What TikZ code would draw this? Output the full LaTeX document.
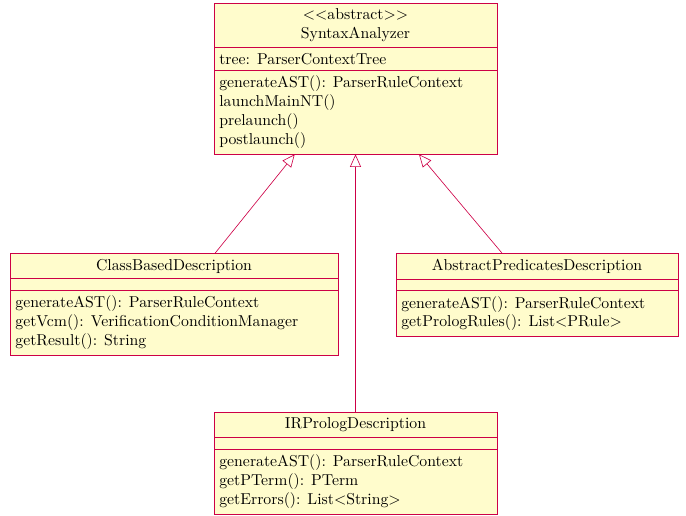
\documentclass[tikz,border=0pt]{standalone}
\usepackage{xcolor}
\usepackage{tikz}
\usetikzlibrary{arrows.meta, shapes.multipart}
\definecolor{umlred}{RGB}{205,0,70}
\tikzset{
    cls/.style={draw=umlred, fill=yellow!20, rectangle split, rectangle split parts=3,
        rectangle split part align={center,left,left}, anchor=north, inner sep=0.3333em},
    inherit/.style={draw=umlred, -{Triangle[open, length=8pt, width=7pt]}},
}
\newcommand{\ops}[1]{\vbox{\let\\\cr\halign{##\hfil\cr#1\crcr}}}
\newcommand{\clsname}[1]{\vbox{\let\\\cr\halign{\hfil##\hfil\cr#1\crcr}}}
\newcommand{\noattr}{\rule{0pt}{0.4pt}}

\begin{document}
\begin{tikzpicture}
        \useasboundingbox (0,0) rectangle (15.277,-11.491);
        \node[cls, minimum width=6.30cm] (sa) at (7.917,-0.067) {\clsname{$<<$abstract$>>$\\ SyntaxAnalyzer}
            \nodepart{second} tree: ParserContextTree
            \nodepart{third} \ops{generateAST(): ParserRuleContext\\ launchMainNT()\\ prelaunch()\\ postlaunch()}};
        \node[cls, minimum width=7.30cm] (cb) at (3.875,-5.634) {ClassBasedDescription
            \nodepart{second} \noattr
            \nodepart{third} \ops{generateAST(): ParserRuleContext\\ getVcm(): VerificationConditionManager\\ getResult(): String}};
        \node[cls, minimum width=6.28cm] (ap) at (11.96,-5.634) {AbstractPredicatesDescription
            \nodepart{second} \noattr
            \nodepart{third} \ops{generateAST(): ParserRuleContext\\ getPrologRules(): List$<$PRule$>$}};
        \node[cls, minimum width=6.30cm] (ir) at (7.917,-9.175) {IRPrologDescription
            \nodepart{second} \noattr
            \nodepart{third} \ops{generateAST(): ParserRuleContext\\ getPTerm(): PTerm\\ getErrors(): List$<$String$>$}};

        \draw[inherit] (cb) -- (sa);
        \draw[inherit] (ap) -- (sa);
        \draw[inherit] (ir) -- (sa);
    \end{tikzpicture}
\end{document}
